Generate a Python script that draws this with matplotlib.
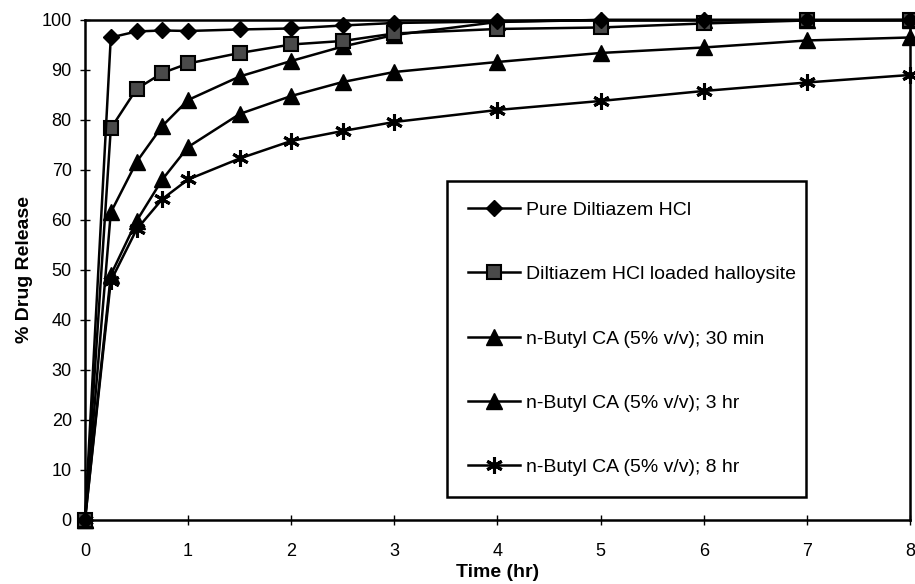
import matplotlib
matplotlib.use("Agg")
import matplotlib.pyplot as plt
from matplotlib.patches import Rectangle

plt.rcParams['font.family'] = ['Liberation Sans', 'DejaVu Sans']

time_hr = [0, 0.25, 0.5, 0.75, 1, 1.5, 2, 2.5, 3, 4, 5, 6, 7, 8]
pure = [0, 96.5, 97.7, 97.9, 97.8, 98.1, 98.3, 98.9, 99.4, 99.7, 100, 100, 100, 100]
loaded = [0, 78.3, 86.2, 89.4, 91.3, 93.4, 95.1, 95.8, 97.3, 98.2, 98.5, 99.3, 99.9, 100]
butyl_30min = [0, 61.5, 71.6, 78.8, 84.0, 88.7, 91.8, 94.7, 97.0, 99.6, 100, 100, 100, 100]
butyl_3hr = [0, 49.0, 59.8, 68.1, 74.6, 81.2, 84.8, 87.6, 89.6, 91.6, 93.4, 94.5, 95.9, 96.5]
butyl_8hr = [0, 47.8, 58.1, 64.2, 68.1, 72.3, 75.8, 77.8, 79.6, 82.0, 83.8, 85.8, 87.5, 89.0]

labels = ["Pure Diltiazem HCl", "Diltiazem HCl loaded halloysite",
          "n-Butyl CA (5% v/v); 30 min", "n-Butyl CA (5% v/v); 3 hr",
          "n-Butyl CA (5% v/v); 8 hr"]
x_ticks = [0, 1, 2, 3, 4, 5, 6, 7, 8]
y_ticks = [0, 10, 20, 30, 40, 50, 60, 70, 80, 90, 100]

fig = plt.figure(figsize=(9.15, 5.84), dpi=100)
ax = fig.add_axes([0.0929, 0.1096, 0.9016, 0.8562])

lw = 1.8
ax.plot(time_hr, pure, color='black', lw=lw, marker='D', ms=8, mfc='black', mec='black', clip_on=False, label=labels[0], zorder=5)
ax.plot(time_hr, loaded, color='black', lw=lw, marker='s', ms=10, mfc='#4a4a4a', mec='black', mew=1.5, clip_on=False, label=labels[1], zorder=4)
ax.plot(time_hr, butyl_30min, color='black', lw=lw, marker='^', ms=11, mfc='black', mec='black', clip_on=False, label=labels[2], zorder=3)
ax.plot(time_hr, butyl_3hr, color='black', lw=lw, marker='^', ms=11, mfc='black', mec='black', clip_on=False, label=labels[3], zorder=3)
ax.plot(time_hr, butyl_8hr, color='black', lw=lw, marker=(6, 2, 0), ms=12, mfc='black', mec='black', mew=2.2, clip_on=False, label=labels[4], zorder=3)

ax.set_xlim(0, 8)
ax.set_ylim(0, 100)
ax.set_xticks(x_ticks)
ax.set_yticks(y_ticks)
ax.tick_params(direction='inout', length=7, width=1, labelsize=13, colors='black')
ax.tick_params(axis='y', pad=6)
ax.tick_params(axis='x', pad=13)
for s in ax.spines.values():
    s.set_linewidth(1.8)
    s.set_color('black')

ax.set_xlabel("Time (hr)", fontsize=14, fontweight='bold', labelpad=3)
ax.set_ylabel("% Drug Release", fontsize=14, fontweight='bold', labelpad=6)

# legend frame drawn separately to match the reference box
box = Rectangle((0.4388, 0.046), 0.8739 - 0.4388, 0.678 - 0.046, transform=ax.transAxes,
                facecolor='white', edgecolor='black', lw=1.8, zorder=9)
ax.add_patch(box)

leg = ax.legend(loc='upper left', bbox_to_anchor=(0.439, 0.678), bbox_transform=ax.transAxes,
                fontsize=14, frameon=False,
                labelspacing=2.4, borderpad=1.05, handlelength=2.7, handletextpad=0.3,
                borderaxespad=0)
leg.set_zorder(10)

fig.savefig("out.png", dpi=100)
